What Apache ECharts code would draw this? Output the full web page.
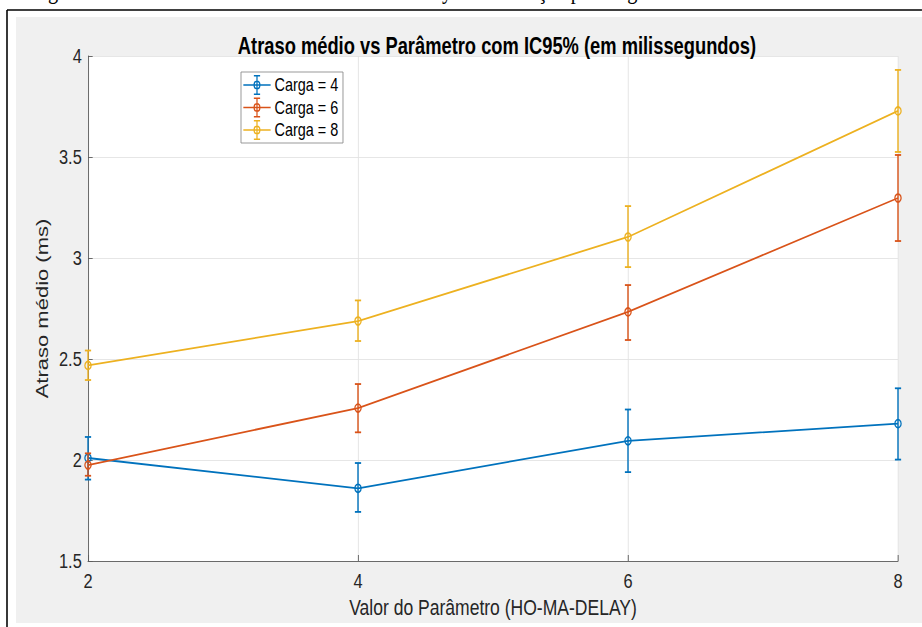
<!DOCTYPE html>
<html>
<head>
<meta charset="utf-8">
<script src="https://cdn.jsdelivr.net/npm/echarts@6/dist/echarts.min.js"></script>
<style>
html,body{margin:0;padding:0;background:#fff;}
#wrap{position:absolute;left:0;top:0;width:922px;height:627px;overflow:hidden;background:#fff;}
#c{position:absolute;left:0;top:0;height:627px;transform-origin:0 0;}
</style>
</head>
<body>
<div id="wrap"><div id="c"></div></div>
<script>
// ---- data ----
const xValues = [2, 4, 6, 8];
const seriesNames = ['Carga = 4', 'Carga = 6', 'Carga = 8'];
const carga4Mean = [2.010, 1.860, 2.095, 2.180];
const carga4Low  = [1.903, 1.743, 1.940, 2.002];
const carga4High = [2.114, 1.985, 2.250, 2.355];
const carga6Mean = [1.975, 2.257, 2.733, 3.297];
const carga6Low  = [1.922, 2.137, 2.594, 3.084];
const carga6High = [2.033, 2.376, 2.866, 3.510];
const carga8Mean = [2.468, 2.688, 3.104, 3.728];
const carga8Low  = [2.396, 2.589, 2.955, 3.525];
const carga8High = [2.542, 2.790, 3.257, 3.931];
const yTicks = [1.5, 2, 2.5, 3, 3.5, 4];
const titleText = 'Atraso médio vs Parâmetro com IC95% (em milissegundos)';
const xName = 'Valor do Parâmetro (HO-MA-DELAY)';
const yName = 'Atraso médio (ms)';
const captionText = 'Figura 9 – Atraso médio vs valor do HO-MA-Delay com variação por carga';

// ---- layout (picture is horizontally compressed) ----
const S = 0.78;
const W = Math.round(922 / S);
const el = document.getElementById('c');
el.style.width = W + 'px';
el.style.transform = 'scaleX(' + S + ')';

const colors = ['#0072BD', '#D95319', '#EDB120'];
const means = [carga4Mean, carga6Mean, carga8Mean];
const lows = [carga4Low, carga6Low, carga8Low];
const highs = [carga4High, carga6High, carga8High];
const FONT = "'Liberation Sans', Arial, Helvetica, sans-serif";

const gridLeft = 88 / S, gridRight = W - 898 / S;

const iconPath = 'path://M0 9.2H35V10.8H0Z M16.7 0H18.3V20H16.7Z M13.5 0H21.5V1.6H13.5Z M13.5 18.4H21.5V20H13.5Z ' +
  'M13 10A4.5 4.5 0 1 1 22 10A4.5 4.5 0 1 1 13 10Z M14.6 10A2.9 2.9 0 1 0 20.4 10A2.9 2.9 0 1 0 14.6 10Z';

const series = [];
seriesNames.forEach((name, i) => {
  const c = colors[i];
  series.push({
    name: name,
    type: 'line',
    data: xValues.map((x, k) => [x, means[i][k]]),
    symbol: 'circle',
    symbolSize: 8,
    showSymbol: true,
    lineStyle: { color: c, width: 1.8 },
    itemStyle: { color: 'rgba(255,255,255,0)', borderColor: c, borderWidth: 1.6 },
    emphasis: { disabled: true },
    z: 3 + i * 2,
    animation: false
  });
  series.push({
    name: name,
    type: 'custom',
    data: xValues.map((x, k) => [x, lows[i][k], highs[i][k]]),
    encode: { x: 0, y: [1, 2] },
    z: 4 + i * 2,
    animation: false,
    renderItem: function (params, api) {
      const x = api.value(0), lo = api.value(1), hi = api.value(2);
      const pH = api.coord([x, hi]), pL = api.coord([x, lo]);
      const w = 4;
      const st = { stroke: c, lineWidth: 1.8, fill: null };
      return {
        type: 'group',
        children: [
          { type: 'line', shape: { x1: pH[0], y1: pH[1], x2: pL[0], y2: pL[1] }, style: st },
          { type: 'line', shape: { x1: pH[0] - w, y1: pH[1], x2: pH[0] + w, y2: pH[1] }, style: st },
          { type: 'line', shape: { x1: pL[0] - w, y1: pL[1], x2: pL[0] + w, y2: pL[1] }, style: st }
        ]
      };
    }
  });
});

const chart = echarts.init(el, null, { renderer: 'svg', width: W, height: 627 });
chart.setOption({
  animation: false,
  backgroundColor: '#ffffff',
  graphic: [
    { type: 'rect', silent: true, z: -10, shape: { x: 16 / S, y: 17, width: W, height: 606 }, style: { fill: '#f0f0f0' } },
    { type: 'line', silent: true, z: -9, shape: { x1: 7 / S, y1: 10, x2: W, y2: 10 }, style: { stroke: '#000', lineWidth: 1.5 } },
    { type: 'line', silent: true, z: -9, shape: { x1: 7 / S, y1: 10, x2: 7 / S, y2: 627 }, style: { stroke: '#000', lineWidth: 2 } },
    { type: 'text', silent: true, z: -9, x: 40, y: 3, style: { text: captionText, font: "26px 'Liberation Serif', 'Times New Roman', serif", fill: '#000', verticalAlign: 'bottom' } }
  ],
  title: {
    text: titleText,
    left: (gridLeft + (W - gridRight)) / 2,
    textAlign: 'center',
    top: 29,
    textStyle: { fontFamily: FONT, fontSize: 23.5, fontWeight: 'bold', color: '#000' }
  },
  legend: {
    orient: 'vertical',
    left: 241 / S,
    top: 72,
    padding: [3, 6, 3, 3],
    itemWidth: 35,
    itemHeight: 20,
    itemGap: 2.5,
    itemTextGap: 4,
    backgroundColor: '#ffffff',
    borderColor: '#8c8c8c',
    borderWidth: 1,
    borderRadius: 0,
    selectedMode: false,
    icon: iconPath,
    textStyle: { fontFamily: FONT, fontSize: 18.5, color: '#000' },
    data: seriesNames.map((n, i) => ({ name: n, icon: iconPath, itemStyle: { color: colors[i], borderWidth: 0 } }))
  },
  grid: {
    left: gridLeft, right: gridRight, top: 56, bottom: 66,
    show: true, backgroundColor: '#ffffff', borderWidth: 0, containLabel: false
  },
  xAxis: {
    type: 'value',
    min: 2, max: 8, interval: 2,
    name: xName,
    nameLocation: 'middle',
    nameGap: 33,
    nameTextStyle: { fontFamily: FONT, fontSize: 22.5, color: '#262626' },
    axisLine: { show: true, onZero: false, lineStyle: { color: '#5a5a5a', width: 1 } },
    axisTick: { show: true, inside: true, length: 6, lineStyle: { color: '#5a5a5a' } },
    axisLabel: { fontFamily: FONT, fontSize: 21, color: '#262626', margin: 9 },
    splitLine: { show: true, lineStyle: { color: '#e3e3e3', width: 1 } }
  },
  yAxis: {
    type: 'value',
    min: 1.5, max: 4, interval: 0.5,
    name: yName,
    nameLocation: 'middle',
    nameGap: 34,
    nameTextStyle: { fontFamily: FONT, fontSize: 22, color: '#262626' },
    axisLine: { show: true, onZero: false, lineStyle: { color: '#5a5a5a', width: 1 } },
    axisTick: { show: true, inside: true, length: 6, lineStyle: { color: '#5a5a5a' } },
    axisLabel: { fontFamily: FONT, fontSize: 21, color: '#262626', margin: 8,
      formatter: v => yTicks.indexOf(v) >= 0 ? String(v) : '' },
    splitLine: { show: true, lineStyle: { color: '#e3e3e3', width: 1 } }
  },
  series: series
});
</script>
</body>
</html>
